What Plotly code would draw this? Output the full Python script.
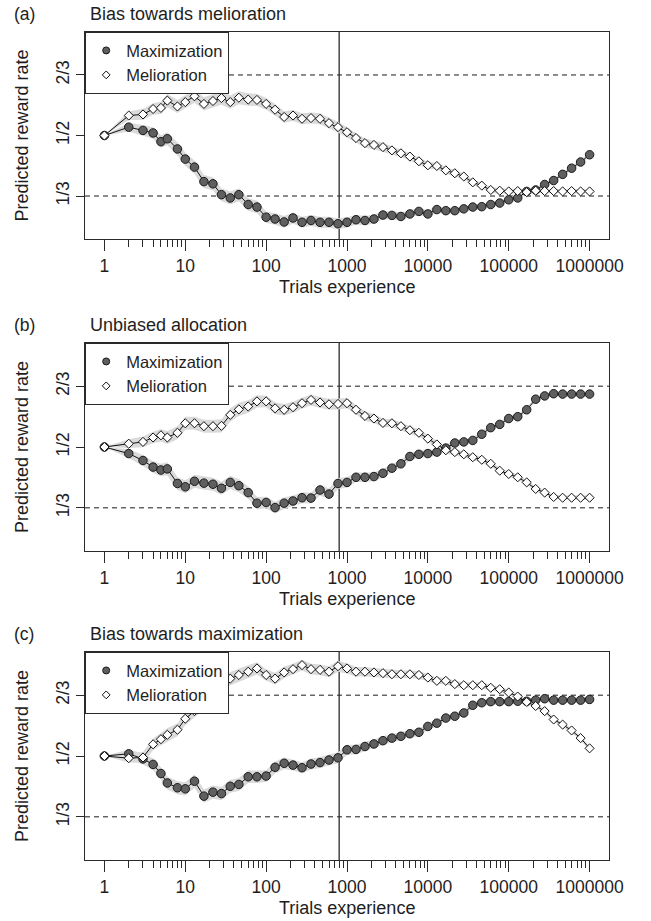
import plotly.graph_objects as go

# ---------------- data ----------------
trials = [1, 2, 3, 4, 5, 6, 8,
          10, 13, 17, 22, 28, 36, 46, 60, 77,
          100, 129, 167, 215, 278, 359, 464, 599, 774,
          1000, 1292, 1668, 2154, 2783, 3594, 4642, 5995, 7743,
          10000, 12915, 16681, 21544, 27826, 35938, 46416, 59948, 77426,
          100000, 129155, 166810, 215443, 278256, 359381, 464159, 599484, 774264,
          1000000]

a_max = [0.500, 0.523, 0.514, 0.507, 0.483, 0.491, 0.463,
         0.435, 0.413, 0.373, 0.367, 0.337, 0.328, 0.337, 0.310, 0.303,
         0.275, 0.270, 0.262, 0.273, 0.261, 0.266, 0.261, 0.261, 0.257,
         0.261, 0.268, 0.266, 0.270, 0.281, 0.280, 0.277, 0.284, 0.291,
         0.284, 0.296, 0.293, 0.293, 0.298, 0.303, 0.304, 0.310, 0.314,
         0.323, 0.328, 0.346, 0.350, 0.365, 0.376, 0.393, 0.410, 0.427,
         0.447]
a_mel = [0.500, 0.555, 0.558, 0.573, 0.576, 0.596, 0.580,
         0.592, 0.608, 0.587, 0.595, 0.603, 0.592, 0.604, 0.599, 0.598,
         0.587, 0.571, 0.551, 0.555, 0.546, 0.548, 0.546, 0.534, 0.523,
         0.509, 0.493, 0.479, 0.474, 0.468, 0.459, 0.451, 0.442, 0.429,
         0.418, 0.416, 0.404, 0.396, 0.387, 0.371, 0.362, 0.350, 0.348,
         0.346, 0.347, 0.344, 0.348, 0.347, 0.347, 0.346, 0.347, 0.346,
         0.346]

b_max = [0.500, 0.482, 0.463, 0.445, 0.437, 0.440, 0.400,
         0.391, 0.406, 0.401, 0.398, 0.387, 0.403, 0.394, 0.375, 0.346,
         0.348, 0.334, 0.346, 0.352, 0.361, 0.360, 0.382, 0.371, 0.400,
         0.403, 0.417, 0.417, 0.419, 0.428, 0.442, 0.454, 0.474, 0.480,
         0.482, 0.486, 0.497, 0.511, 0.514, 0.518, 0.535, 0.553, 0.562,
         0.578, 0.583, 0.602, 0.631, 0.640, 0.646, 0.645, 0.645, 0.645,
         0.645]
b_mel = [0.500, 0.509, 0.514, 0.526, 0.532, 0.526, 0.539,
         0.565, 0.565, 0.557, 0.557, 0.558, 0.588, 0.603, 0.611, 0.625,
         0.625, 0.606, 0.602, 0.609, 0.620, 0.629, 0.622, 0.617, 0.618,
         0.620, 0.602, 0.585, 0.578, 0.566, 0.565, 0.557, 0.546, 0.539,
         0.523, 0.507, 0.491, 0.486, 0.480, 0.472, 0.465, 0.454, 0.435,
         0.426, 0.417, 0.403, 0.385, 0.375, 0.363, 0.361, 0.361, 0.361,
         0.361]

c_max = [0.500, 0.506, 0.492, 0.477, 0.452, 0.426, 0.413,
         0.410, 0.431, 0.390, 0.401, 0.397, 0.417, 0.422, 0.443, 0.443,
         0.445, 0.469, 0.480, 0.475, 0.468, 0.478, 0.482, 0.489, 0.495,
         0.517, 0.518, 0.526, 0.533, 0.542, 0.549, 0.554, 0.561, 0.565,
         0.581, 0.590, 0.604, 0.609, 0.618, 0.639, 0.646, 0.649, 0.649,
         0.649, 0.650, 0.650, 0.653, 0.657, 0.653, 0.653, 0.653, 0.653,
         0.655]
c_mel = [0.500, 0.494, 0.496, 0.532, 0.546, 0.558, 0.572,
         0.602, 0.623, 0.646, 0.669, 0.697, 0.712, 0.722, 0.731, 0.740,
         0.722, 0.712, 0.729, 0.738, 0.749, 0.738, 0.736, 0.731, 0.746,
         0.740, 0.731, 0.731, 0.729, 0.727, 0.724, 0.724, 0.724, 0.722,
         0.715, 0.706, 0.706, 0.697, 0.694, 0.694, 0.694, 0.687, 0.683,
         0.674, 0.663, 0.648, 0.637, 0.623, 0.600, 0.586, 0.570, 0.549,
         0.521]

# half-width of the grey uncertainty band
band_hw = [0.000, 0.012, 0.015, 0.016, 0.017, 0.018, 0.018,
           0.018, 0.018, 0.018, 0.018, 0.018, 0.018, 0.018, 0.017, 0.017,
           0.016, 0.016, 0.016, 0.015, 0.015, 0.015, 0.015, 0.015, 0.015,
           0.014, 0.013, 0.013, 0.012, 0.012, 0.011, 0.011, 0.010, 0.010,
           0.010, 0.009, 0.009, 0.009, 0.008, 0.008, 0.008, 0.008, 0.007,
           0.007, 0.007, 0.007, 0.006, 0.006, 0.006, 0.006, 0.006, 0.006,
           0.006]

panel_letters = ["(a)", "(b)", "(c)"]
panel_titles = ["Bias towards melioration", "Unbiased allocation", "Bias towards maximization"]
series_names = ["Maximization", "Melioration"]
major_ticks = [1, 10, 100, 1000, 10000, 100000, 1000000]
major_labels = ["1", "10", "100", "1000", "10000", "100000", "1000000"]
y_ticks = [1 / 3, 1 / 2, 2 / 3]
y_labels = ["1/3", "1/2", "2/3"]
ref_levels = [1 / 3, 2 / 3]
vline_trial = 800

panels = [(a_max, a_mel), (b_max, b_mel), (c_max, c_mel)]

# ---------------- layout helpers ----------------
W, H = 651, 921
ML, MR = 85, 42
boxes = [(32, 239), (343, 551), (652, 860)]  # top, bottom pixel of each plot box
FONT = "Liberation Sans, Arial, Helvetica, sans-serif"
INK = "#1e1e1e"
AX = "#2a2a2a"


def py(p):
    return (H - p) / H


def px(p):
    return (p - ML) / (W - ML - MR)


minor_ticks = [k * 10 ** d for d in range(6) for k in range(2, 10)]

fig = go.Figure()
layout_axes = {}
shapes = []
annotations = []

for i, ((ymax, ymel), (top, bot)) in enumerate(zip(panels, boxes)):
    n = "" if i == 0 else str(i + 1)
    xa, ya = "x" + n, "y" + n
    leg = "legend" + n

    # uncertainty bands
    for vals in (ymax, ymel):
        upper = [v + h for v, h in zip(vals, band_hw)]
        lower = [v - h for v, h in zip(vals, band_hw)]
        fig.add_trace(go.Scatter(
            x=trials + trials[::-1], y=upper + lower[::-1],
            fill="toself", fillcolor="#dadada", line=dict(width=0),
            mode="lines", hoverinfo="skip", showlegend=False,
            xaxis=xa, yaxis=ya))

    # lines + markers
    fig.add_trace(go.Scatter(
        x=trials, y=ymax, mode="lines+markers", name=series_names[0],
        line=dict(color="#111111", width=1),
        marker=dict(symbol="circle", size=8.5, color="#5f5f5f",
                    line=dict(color="#1a1a1a", width=1)),
        showlegend=False, xaxis=xa, yaxis=ya))
    fig.add_trace(go.Scatter(
        x=trials, y=ymel, mode="lines+markers", name=series_names[1],
        line=dict(color="#111111", width=1),
        marker=dict(symbol="diamond", size=7, color="white",
                    line=dict(color="#111111", width=1)),
        showlegend=False, xaxis=xa, yaxis=ya))

    # legend entries (marker only)
    fig.add_trace(go.Scatter(
        x=[None], y=[None], mode="markers", name=series_names[0],
        marker=dict(symbol="circle", size=7, color="#5f5f5f",
                    line=dict(color="#1a1a1a", width=1)),
        legend=leg, xaxis=xa, yaxis=ya))
    fig.add_trace(go.Scatter(
        x=[None], y=[None], mode="markers", name=series_names[1],
        marker=dict(symbol="diamond", size=6, color="white",
                    line=dict(color="#111111", width=1)),
        legend=leg, xaxis=xa, yaxis=ya))

    layout_axes["xaxis" + n] = dict(
        type="log", range=[-0.24, 6.24], domain=[0, 1], anchor=ya,
        tickmode="array", tickvals=major_ticks, ticktext=major_labels,
        ticks="outside", ticklen=11, tickwidth=1, tickcolor=AX,
        minor=dict(tickmode="array", tickvals=minor_ticks, ticks="outside",
                   ticklen=7, tickwidth=1, tickcolor=AX, showgrid=False),
        showline=True, linecolor=AX, linewidth=1.3, mirror=True,
        showgrid=False, zeroline=False, automargin=False,
        tickfont=dict(family=FONT, size=17.5, color=INK))
    layout_axes["yaxis" + n] = dict(
        range=[0.215, 0.785], domain=[py(bot), py(top)], anchor=xa,
        tickmode="array", tickvals=y_ticks, ticktext=y_labels, tickangle=-90,
        ticks="outside", ticklen=8, tickwidth=1, tickcolor=AX,
        showline=True, linecolor=AX, linewidth=1.3, mirror=True,
        showgrid=False, zeroline=False, automargin=False,
        tickfont=dict(family=FONT, size=17.5, color=INK))

    layout_axes[leg] = dict(
        x=0, y=py(top), xref="paper", yref="paper", xanchor="left", yanchor="top",
        bgcolor="white", bordercolor=AX, borderwidth=1.2,
        font=dict(family=FONT, size=16.5, color=INK), tracegroupgap=0,
        itemwidth=30)

    # dashed reference levels
    for lvl in ref_levels:
        shapes.append(dict(type="line", xref=xa + " domain", yref=ya,
                           x0=0, x1=1, y0=lvl, y1=lvl, layer="below",
                           line=dict(color="#1a1a1a", width=1, dash="5px,4px")))
    # vertical marker
    shapes.append(dict(type="line", xref=xa, yref=ya + " domain",
                       x0=vline_trial, x1=vline_trial, y0=0, y1=1, layer="below",
                       line=dict(color=AX, width=1.3)))

    # panel letter & title
    annotations.append(dict(text=panel_letters[i], x=px(12), y=py(top - 18),
                            xref="paper", yref="paper", xanchor="left", yanchor="middle",
                            showarrow=False, font=dict(family=FONT, size=17.5, color=INK)))
    annotations.append(dict(text=panel_titles[i], x=px(88), y=py(top - 18),
                            xref="paper", yref="paper", xanchor="left", yanchor="middle",
                            showarrow=False, font=dict(family=FONT, size=18, color=INK)))
    # axis titles
    annotations.append(dict(text="Trials experience", x=0.5, y=py(bot + 48),
                            xref="paper", yref="paper", xanchor="center", yanchor="middle",
                            showarrow=False, font=dict(family=FONT, size=18, color=INK)))
    annotations.append(dict(text="Predicted reward rate", x=px(22), y=py((top + bot) / 2),
                            xref="paper", yref="paper", xanchor="center", yanchor="middle",
                            textangle=-90, showarrow=False,
                            font=dict(family=FONT, size=18, color=INK)))

fig.update_layout(
    width=W, height=H,
    margin=dict(l=ML, r=MR, t=0, b=0, pad=0),
    paper_bgcolor="white", plot_bgcolor="white",
    font=dict(family=FONT, color=INK),
    shapes=shapes, annotations=annotations,
    **layout_axes)

fig.write_html("out.html")
